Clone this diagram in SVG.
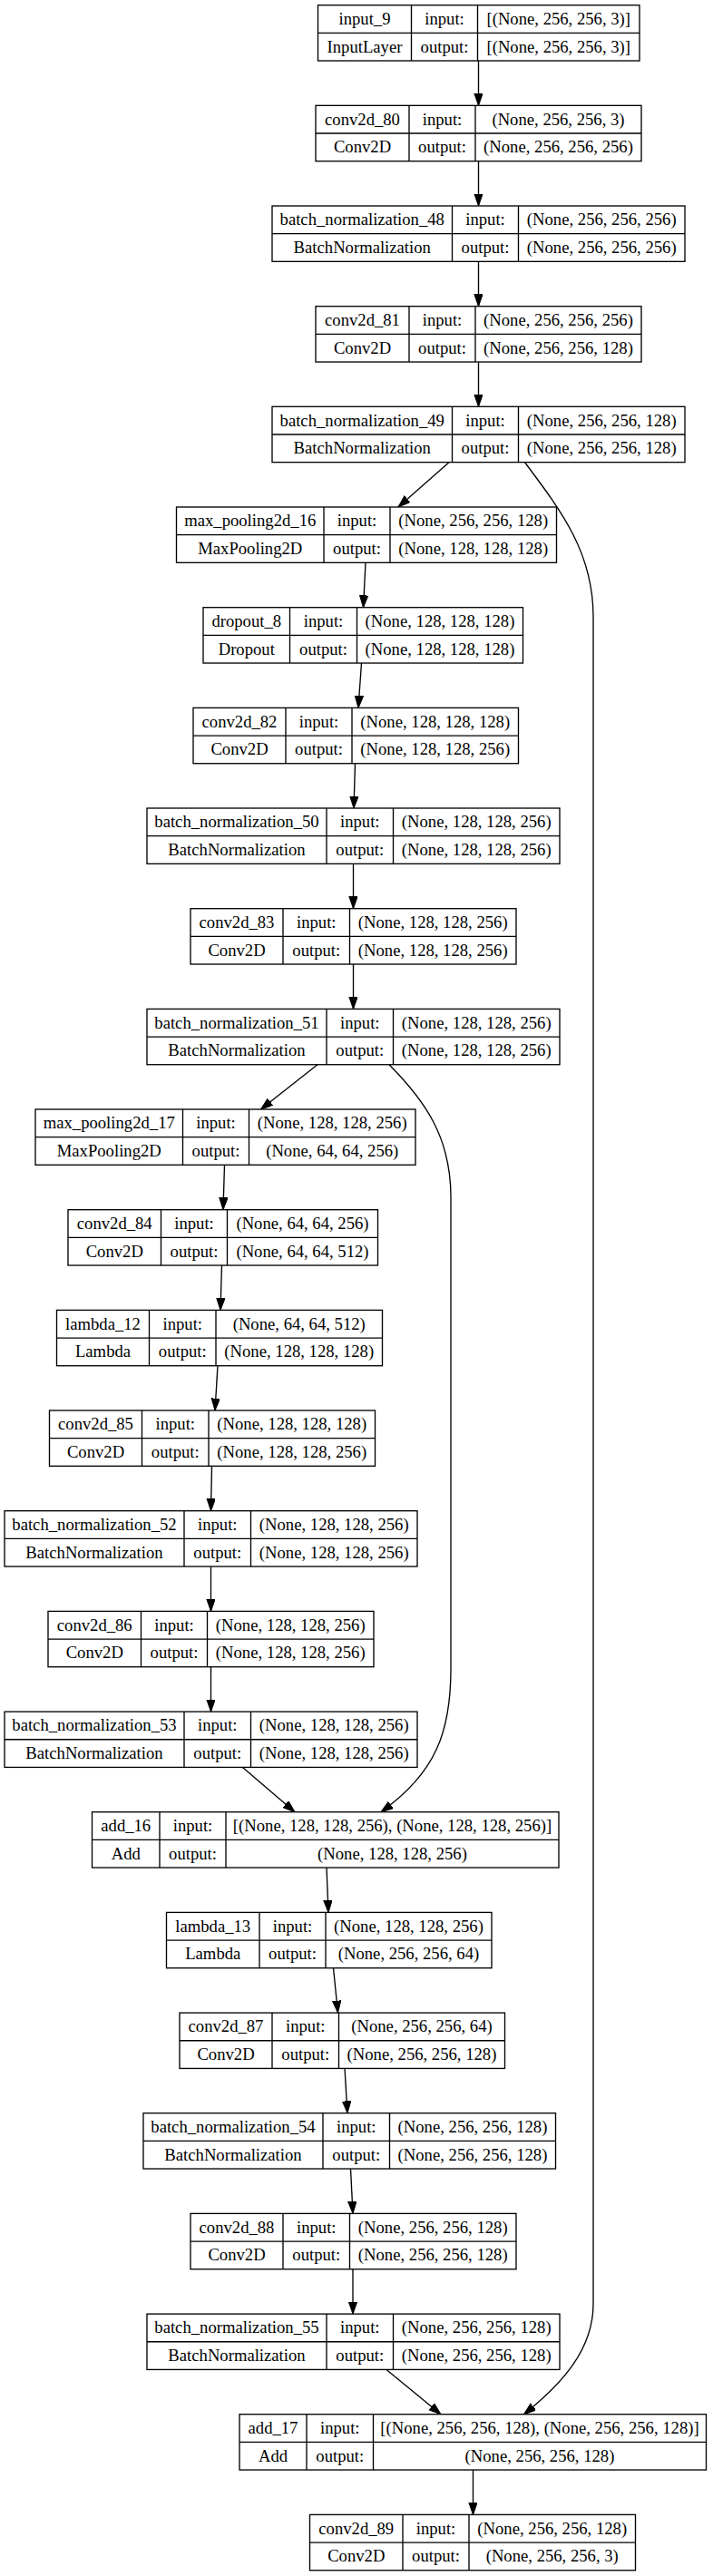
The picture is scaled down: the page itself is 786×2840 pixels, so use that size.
<svg xmlns="http://www.w3.org/2000/svg" width="786" height="2840" viewBox="0 0 786 2840">
<style>
.b{fill:#fff;stroke:#000;stroke-width:1.33}
.d{fill:none;stroke:#000;stroke-width:1.33}
text{font-family:"Liberation Serif","Times New Roman",serif;font-size:18.67px;text-anchor:middle;fill:#000}
.e{fill:none;stroke:#000;stroke-width:1.33;marker-end:url(#ah)}
</style>
<defs>
<marker id="ah" markerUnits="userSpaceOnUse" markerWidth="14" markerHeight="10" refX="13.33" refY="4.67" orient="auto">
<path d="M0,0 L13.33,4.67 L0,9.33 z" fill="#000" stroke="#000" stroke-width="1"/>
</marker>
</defs>
<rect width="786" height="2840" fill="#fff"/>
<g id="edges">
<path class="e" d="M527.5,67 L527.5,116.34"/>
<path class="e" d="M527.5,177.67 L527.5,227"/>
<path class="e" d="M527.5,288.33 L527.5,337.7"/>
<path class="e" d="M527.5,399.03 L527.5,448.3"/>
<path class="e" d="M495,509.63 L439,559"/>
<path class="e" d="M578.5,509.63 C620,565 654,610 654,680 L654,2540 C654,2590 620,2628 577.5,2661.7"/>
<path class="e" d="M403,620.33 L400.5,669.7"/>
<path class="e" d="M398.5,731.03 L395,780.4"/>
<path class="e" d="M391.5,841.73 L390,891"/>
<path class="e" d="M389.5,952.33 L389.5,1001.7"/>
<path class="e" d="M389.5,1063.03 L389.5,1112.4"/>
<path class="e" d="M350,1173.73 L287.5,1223"/>
<path class="e" d="M429,1173.73 C470,1215 497,1255 497,1320 L497,1840 C497,1910 480,1955 420,1997.7"/>
<path class="e" d="M247.5,1284.33 L246,1333.7"/>
<path class="e" d="M244.5,1395.03 L243,1444.4"/>
<path class="e" d="M240,1505.73 L237,1555"/>
<path class="e" d="M233.5,1616.33 L232.5,1665.7"/>
<path class="e" d="M232.5,1727.03 L232.5,1776.4"/>
<path class="e" d="M232.5,1837.73 L232.5,1887.1"/>
<path class="e" d="M267.5,1948.43 L325,1997.7"/>
<path class="e" d="M360,2059.03 L362,2108.4"/>
<path class="e" d="M367.5,2169.73 L372.5,2219.1"/>
<path class="e" d="M380,2280.43 L383,2329.7"/>
<path class="e" d="M386.5,2391.03 L389,2440.4"/>
<path class="e" d="M389,2501.73 L389,2551.1"/>
<path class="e" d="M426,2612.43 L486,2661.7"/>
<path class="e" d="M521.5,2723.03 L521.5,2772.4"/>
</g>
<g id="input_9">
<rect class="b" x="350.5" y="5.67" width="354.5" height="61.33"/>
<path class="d" d="M350.5,36.34 H705 M453.5,5.67 V67 M526.5,5.67 V67"/>
<text x="402" y="26.97">input_9</text><text x="402" y="57.67">InputLayer</text>
<text x="490" y="26.97">input:</text><text x="490" y="57.67">output:</text>
<text x="615.75" y="26.97">[(None, 256, 256, 3)]</text><text x="615.75" y="57.67">[(None, 256, 256, 3)]</text>
</g>
<g id="conv2d_80">
<rect class="b" x="348" y="116.34" width="359" height="61.33"/>
<path class="d" d="M348,147.01 H707 M451,116.34 V177.67 M524,116.34 V177.67"/>
<text x="399.5" y="137.64">conv2d_80</text><text x="399.5" y="168.34">Conv2D</text>
<text x="487.5" y="137.64">input:</text><text x="487.5" y="168.34">output:</text>
<text x="615.5" y="137.64">(None, 256, 256, 3)</text><text x="615.5" y="168.34">(None, 256, 256, 256)</text>
</g>
<g id="batch_normalization_48">
<rect class="b" x="300" y="227" width="455" height="61.33"/>
<path class="d" d="M300,257.67 H755 M498.5,227 V288.33 M571.5,227 V288.33"/>
<text x="399.25" y="248.3">batch_normalization_48</text><text x="399.25" y="279">BatchNormalization</text>
<text x="535" y="248.3">input:</text><text x="535" y="279">output:</text>
<text x="663.25" y="248.3">(None, 256, 256, 256)</text><text x="663.25" y="279">(None, 256, 256, 256)</text>
</g>
<g id="conv2d_81">
<rect class="b" x="348" y="337.7" width="359" height="61.33"/>
<path class="d" d="M348,368.37 H707 M451,337.7 V399.03 M524,337.7 V399.03"/>
<text x="399.5" y="359">conv2d_81</text><text x="399.5" y="389.7">Conv2D</text>
<text x="487.5" y="359">input:</text><text x="487.5" y="389.7">output:</text>
<text x="615.5" y="359">(None, 256, 256, 256)</text><text x="615.5" y="389.7">(None, 256, 256, 128)</text>
</g>
<g id="batch_normalization_49">
<rect class="b" x="300" y="448.3" width="455" height="61.33"/>
<path class="d" d="M300,478.97 H755 M498.5,448.3 V509.63 M571.5,448.3 V509.63"/>
<text x="399.25" y="469.6">batch_normalization_49</text><text x="399.25" y="500.3">BatchNormalization</text>
<text x="535" y="469.6">input:</text><text x="535" y="500.3">output:</text>
<text x="663.25" y="469.6">(None, 256, 256, 128)</text><text x="663.25" y="500.3">(None, 256, 256, 128)</text>
</g>
<g id="max_pooling2d_16">
<rect class="b" x="194.5" y="559" width="419" height="61.33"/>
<path class="d" d="M194.5,589.67 H613.5 M357,559 V620.33 M430,559 V620.33"/>
<text x="275.75" y="580.3">max_pooling2d_16</text><text x="275.75" y="611">MaxPooling2D</text>
<text x="393.5" y="580.3">input:</text><text x="393.5" y="611">output:</text>
<text x="521.75" y="580.3">(None, 256, 256, 128)</text><text x="521.75" y="611">(None, 128, 128, 128)</text>
</g>
<g id="dropout_8">
<rect class="b" x="224" y="669.7" width="352.5" height="61.33"/>
<path class="d" d="M224,700.37 H576.5 M319.5,669.7 V731.03 M393.5,669.7 V731.03"/>
<text x="271.75" y="691">dropout_8</text><text x="271.75" y="721.7">Dropout</text>
<text x="356.5" y="691">input:</text><text x="356.5" y="721.7">output:</text>
<text x="485" y="691">(None, 128, 128, 128)</text><text x="485" y="721.7">(None, 128, 128, 128)</text>
</g>
<g id="conv2d_82">
<rect class="b" x="213" y="780.4" width="358.5" height="61.33"/>
<path class="d" d="M213,811.07 H571.5 M315,780.4 V841.73 M388,780.4 V841.73"/>
<text x="264" y="801.7">conv2d_82</text><text x="264" y="832.4">Conv2D</text>
<text x="351.5" y="801.7">input:</text><text x="351.5" y="832.4">output:</text>
<text x="479.75" y="801.7">(None, 128, 128, 128)</text><text x="479.75" y="832.4">(None, 128, 128, 256)</text>
</g>
<g id="batch_normalization_50">
<rect class="b" x="162" y="891" width="455" height="61.33"/>
<path class="d" d="M162,921.67 H617 M360,891 V952.33 M433.5,891 V952.33"/>
<text x="261" y="912.3">batch_normalization_50</text><text x="261" y="943">BatchNormalization</text>
<text x="396.75" y="912.3">input:</text><text x="396.75" y="943">output:</text>
<text x="525.25" y="912.3">(None, 128, 128, 256)</text><text x="525.25" y="943">(None, 128, 128, 256)</text>
</g>
<g id="conv2d_83">
<rect class="b" x="210" y="1001.7" width="359" height="61.33"/>
<path class="d" d="M210,1032.37 H569 M312,1001.7 V1063.03 M385.5,1001.7 V1063.03"/>
<text x="261" y="1023">conv2d_83</text><text x="261" y="1053.7">Conv2D</text>
<text x="348.75" y="1023">input:</text><text x="348.75" y="1053.7">output:</text>
<text x="477.25" y="1023">(None, 128, 128, 256)</text><text x="477.25" y="1053.7">(None, 128, 128, 256)</text>
</g>
<g id="batch_normalization_51">
<rect class="b" x="162" y="1112.4" width="455" height="61.33"/>
<path class="d" d="M162,1143.07 H617 M360,1112.4 V1173.73 M433.5,1112.4 V1173.73"/>
<text x="261" y="1133.7">batch_normalization_51</text><text x="261" y="1164.4">BatchNormalization</text>
<text x="396.75" y="1133.7">input:</text><text x="396.75" y="1164.4">output:</text>
<text x="525.25" y="1133.7">(None, 128, 128, 256)</text><text x="525.25" y="1164.4">(None, 128, 128, 256)</text>
</g>
<g id="max_pooling2d_17">
<rect class="b" x="39" y="1223" width="419" height="61.33"/>
<path class="d" d="M39,1253.67 H458 M201.5,1223 V1284.33 M274.5,1223 V1284.33"/>
<text x="120.25" y="1244.3">max_pooling2d_17</text><text x="120.25" y="1275">MaxPooling2D</text>
<text x="238" y="1244.3">input:</text><text x="238" y="1275">output:</text>
<text x="366.25" y="1244.3">(None, 128, 128, 256)</text><text x="366.25" y="1275">(None, 64, 64, 256)</text>
</g>
<g id="conv2d_84">
<rect class="b" x="75" y="1333.7" width="341.5" height="61.33"/>
<path class="d" d="M75,1364.37 H416.5 M177.5,1333.7 V1395.03 M250.5,1333.7 V1395.03"/>
<text x="126.25" y="1355">conv2d_84</text><text x="126.25" y="1385.7">Conv2D</text>
<text x="214" y="1355">input:</text><text x="214" y="1385.7">output:</text>
<text x="333.5" y="1355">(None, 64, 64, 256)</text><text x="333.5" y="1385.7">(None, 64, 64, 512)</text>
</g>
<g id="lambda_12">
<rect class="b" x="62.5" y="1444.4" width="359" height="61.33"/>
<path class="d" d="M62.5,1475.07 H421.5 M164.5,1444.4 V1505.73 M238,1444.4 V1505.73"/>
<text x="113.5" y="1465.7">lambda_12</text><text x="113.5" y="1496.4">Lambda</text>
<text x="201.25" y="1465.7">input:</text><text x="201.25" y="1496.4">output:</text>
<text x="329.75" y="1465.7">(None, 64, 64, 512)</text><text x="329.75" y="1496.4">(None, 128, 128, 128)</text>
</g>
<g id="conv2d_85">
<rect class="b" x="54.5" y="1555" width="359" height="61.33"/>
<path class="d" d="M54.5,1585.67 H413.5 M156.5,1555 V1616.33 M230,1555 V1616.33"/>
<text x="105.5" y="1576.3">conv2d_85</text><text x="105.5" y="1607">Conv2D</text>
<text x="193.25" y="1576.3">input:</text><text x="193.25" y="1607">output:</text>
<text x="321.75" y="1576.3">(None, 128, 128, 128)</text><text x="321.75" y="1607">(None, 128, 128, 256)</text>
</g>
<g id="batch_normalization_52">
<rect class="b" x="5" y="1665.7" width="455" height="61.33"/>
<path class="d" d="M5,1696.37 H460 M203,1665.7 V1727.03 M276.5,1665.7 V1727.03"/>
<text x="104" y="1687">batch_normalization_52</text><text x="104" y="1717.7">BatchNormalization</text>
<text x="239.75" y="1687">input:</text><text x="239.75" y="1717.7">output:</text>
<text x="368.25" y="1687">(None, 128, 128, 256)</text><text x="368.25" y="1717.7">(None, 128, 128, 256)</text>
</g>
<g id="conv2d_86">
<rect class="b" x="53" y="1776.4" width="359" height="61.33"/>
<path class="d" d="M53,1807.07 H412 M155.5,1776.4 V1837.73 M228.5,1776.4 V1837.73"/>
<text x="104.25" y="1797.7">conv2d_86</text><text x="104.25" y="1828.4">Conv2D</text>
<text x="192" y="1797.7">input:</text><text x="192" y="1828.4">output:</text>
<text x="320.25" y="1797.7">(None, 128, 128, 256)</text><text x="320.25" y="1828.4">(None, 128, 128, 256)</text>
</g>
<g id="batch_normalization_53">
<rect class="b" x="5" y="1887.1" width="455" height="61.33"/>
<path class="d" d="M5,1917.77 H460 M203,1887.1 V1948.43 M276.5,1887.1 V1948.43"/>
<text x="104" y="1908.4">batch_normalization_53</text><text x="104" y="1939.1">BatchNormalization</text>
<text x="239.75" y="1908.4">input:</text><text x="239.75" y="1939.1">output:</text>
<text x="368.25" y="1908.4">(None, 128, 128, 256)</text><text x="368.25" y="1939.1">(None, 128, 128, 256)</text>
</g>
<g id="add_16">
<rect class="b" x="101.5" y="1997.7" width="514.5" height="61.33"/>
<path class="d" d="M101.5,2028.37 H616 M176,1997.7 V2059.03 M249,1997.7 V2059.03"/>
<text x="138.75" y="2019">add_16</text><text x="138.75" y="2049.7">Add</text>
<text x="212.5" y="2019">input:</text><text x="212.5" y="2049.7">output:</text>
<text x="432.5" y="2019">[(None, 128, 128, 256), (None, 128, 128, 256)]</text><text x="432.5" y="2049.7">(None, 128, 128, 256)</text>
</g>
<g id="lambda_13">
<rect class="b" x="183.5" y="2108.4" width="358.5" height="61.33"/>
<path class="d" d="M183.5,2139.07 H542 M286,2108.4 V2169.73 M359,2108.4 V2169.73"/>
<text x="234.75" y="2129.7">lambda_13</text><text x="234.75" y="2160.4">Lambda</text>
<text x="322.5" y="2129.7">input:</text><text x="322.5" y="2160.4">output:</text>
<text x="450.5" y="2129.7">(None, 128, 128, 256)</text><text x="450.5" y="2160.4">(None, 256, 256, 64)</text>
</g>
<g id="conv2d_87">
<rect class="b" x="198" y="2219.1" width="358.5" height="61.33"/>
<path class="d" d="M198,2249.77 H556.5 M300,2219.1 V2280.43 M373.5,2219.1 V2280.43"/>
<text x="249" y="2240.4">conv2d_87</text><text x="249" y="2271.1">Conv2D</text>
<text x="336.75" y="2240.4">input:</text><text x="336.75" y="2271.1">output:</text>
<text x="465" y="2240.4">(None, 256, 256, 64)</text><text x="465" y="2271.1">(None, 256, 256, 128)</text>
</g>
<g id="batch_normalization_54">
<rect class="b" x="158" y="2329.7" width="454.5" height="61.33"/>
<path class="d" d="M158,2360.37 H612.5 M356,2329.7 V2391.03 M429.5,2329.7 V2391.03"/>
<text x="257" y="2351">batch_normalization_54</text><text x="257" y="2381.7">BatchNormalization</text>
<text x="392.75" y="2351">input:</text><text x="392.75" y="2381.7">output:</text>
<text x="521" y="2351">(None, 256, 256, 128)</text><text x="521" y="2381.7">(None, 256, 256, 128)</text>
</g>
<g id="conv2d_88">
<rect class="b" x="210" y="2440.4" width="359" height="61.33"/>
<path class="d" d="M210,2471.07 H569 M312,2440.4 V2501.73 M385.5,2440.4 V2501.73"/>
<text x="261" y="2461.7">conv2d_88</text><text x="261" y="2492.4">Conv2D</text>
<text x="348.75" y="2461.7">input:</text><text x="348.75" y="2492.4">output:</text>
<text x="477.25" y="2461.7">(None, 256, 256, 128)</text><text x="477.25" y="2492.4">(None, 256, 256, 128)</text>
</g>
<g id="batch_normalization_55">
<rect class="b" x="162" y="2551.1" width="455" height="61.33"/>
<path class="d" d="M162,2581.77 H617 M360,2551.1 V2612.43 M433.5,2551.1 V2612.43"/>
<text x="261" y="2572.4">batch_normalization_55</text><text x="261" y="2603.1">BatchNormalization</text>
<text x="396.75" y="2572.4">input:</text><text x="396.75" y="2603.1">output:</text>
<text x="525.25" y="2572.4">(None, 256, 256, 128)</text><text x="525.25" y="2603.1">(None, 256, 256, 128)</text>
</g>
<g id="add_17">
<rect class="b" x="264" y="2661.7" width="514.5" height="61.33"/>
<path class="d" d="M264,2692.37 H778.5 M338,2661.7 V2723.03 M411.5,2661.7 V2723.03"/>
<text x="301" y="2683">add_17</text><text x="301" y="2713.7">Add</text>
<text x="374.75" y="2683">input:</text><text x="374.75" y="2713.7">output:</text>
<text x="595" y="2683">[(None, 256, 256, 128), (None, 256, 256, 128)]</text><text x="595" y="2713.7">(None, 256, 256, 128)</text>
</g>
<g id="conv2d_89">
<rect class="b" x="341.5" y="2772.4" width="359" height="61.33"/>
<path class="d" d="M341.5,2803.07 H700.5 M444,2772.4 V2833.73 M517,2772.4 V2833.73"/>
<text x="392.75" y="2793.7">conv2d_89</text><text x="392.75" y="2824.4">Conv2D</text>
<text x="480.5" y="2793.7">input:</text><text x="480.5" y="2824.4">output:</text>
<text x="608.75" y="2793.7">(None, 256, 256, 128)</text><text x="608.75" y="2824.4">(None, 256, 256, 3)</text>
</g>
</svg>
